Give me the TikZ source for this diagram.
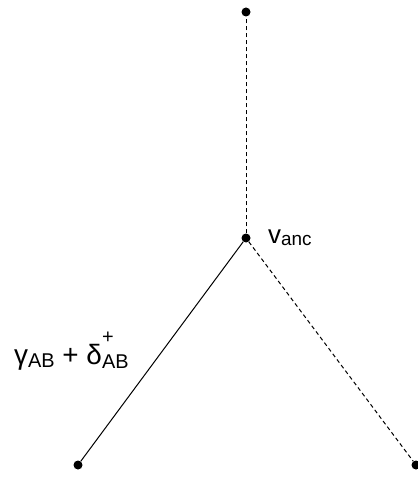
\documentclass[tikz,border=0pt]{standalone}
\usepackage{fontspec}
\setmainfont{Liberation Sans}
\begin{document}
\begin{tikzpicture}[x=1bp,y=-1bp,
  pt/.style={circle,fill=black,inner sep=0pt,minimum size=9bp},
  solidedge/.style={line width=1bp},
  dashedge/.style={line width=1bp,dash pattern=on 4bp off 3bp},
  lbl/.style={inner sep=0pt,anchor=base west}]
\useasboundingbox (0,0) rectangle (417,477);
\node[pt] (top) at (246,12) {};
\node[pt] (anc) at (246,238) {};
\node[pt] (bl) at (78,465) {};
\node[pt] (br) at (416,465) {};
\draw[dashedge] (anc) -- (top);
\draw[solidedge] (anc) -- (bl);
\draw[dashedge] (anc) -- (br);
\node[lbl] (vl) at (268,243) {\fontsize{26}{26}\selectfont v\raisebox{-2.5bp}{\fontsize{19}{19}\selectfont anc}};
\node[lbl] (gl) at (14,364) {\fontsize{28}{28}\selectfont γ\raisebox{-3bp}{\fontsize{20}{20}\selectfont AB} + δ\rlap{\raisebox{21bp}{\fontsize{20}{20}\selectfont +}}\raisebox{-4bp}{\fontsize{20}{20}\selectfont AB}};
\end{tikzpicture}
\end{document}
